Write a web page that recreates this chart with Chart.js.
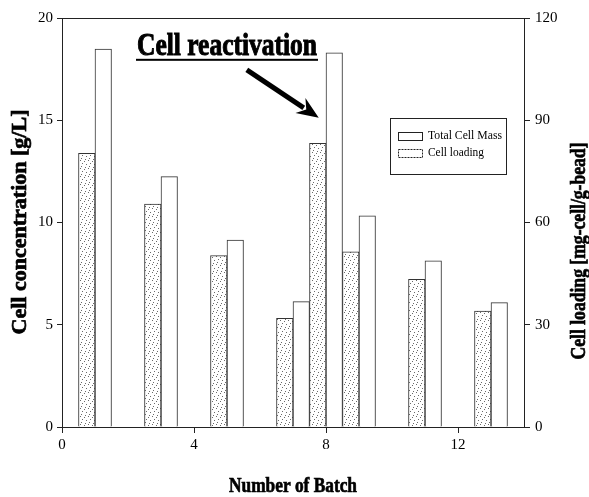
<!DOCTYPE html>
<html><head><meta charset="utf-8">
<script src="https://cdn.jsdelivr.net/npm/chart.js@4.4.1/dist/chart.umd.min.js"></script>
<style>html,body{margin:0;padding:0;background:#fff;}canvas{display:block;}</style>
</head><body>
<canvas id="c" width="589" height="497"></canvas>
<script>
// ---- data ----
const batches = [1, 3, 5, 7, 8, 9, 11, 13];
const cellLoading = [80.3, 65.4, 50.3, 31.9, 83.2, 51.4, 43.3, 34.0];    // mg-cell/g-bead (right axis)
const totalCellMass = [18.48, 12.24, 9.14, 6.13, 18.3, 10.33, 8.13, 6.08]; // g/L (left axis)
const xTickValues = [0, 4, 8, 12];
const leftTickValues = [0, 5, 10, 15, 20];
const rightTickValues = [0, 30, 60, 90, 120];
const seriesNames = ['Total Cell Mass', 'Cell loading'];
const xTitle = 'Number of Batch';
const leftTitle = 'Cell concentration [g/L]';
const rightTitle = 'Cell loading [mg-cell/g-bead]';
const annotationText = 'Cell reactivation';

// ---- styles ----
const SERIF = '"Liberation Serif", "Times New Roman", serif';
function makeStipple() {
  const c = document.createElement('canvas'); c.width = 8; c.height = 8;
  const g = c.getContext('2d');
  g.fillStyle = '#fff'; g.fillRect(0, 0, 8, 8);
  g.fillStyle = '#6a6a6a';
  [[0,0],[4,1],[2,3],[6,4],[1,6],[5,7]].forEach(([x,y]) => g.fillRect(x, y, 1, 1));
  return g.createPattern(c, 'repeat');
}
const stipple = makeStipple();

function fitText(ctx, text, x, y, targetW, rot, heavy) {
  ctx.save();
  ctx.translate(x, y);
  ctx.rotate(rot || 0);
  const w = ctx.measureText(text).width;
  ctx.scale(targetW / w, 1);
  ctx.textAlign = 'center';
  ctx.fillText(text, 0, 0);
  if (heavy) { ctx.lineWidth = heavy; ctx.strokeStyle = ctx.fillStyle; ctx.strokeText(text, 0, 0); }
  ctx.restore();
}

const decor = {
  id: 'decor',
  afterDraw(chart) {
    const ctx = chart.ctx;
    const a = chart.chartArea;
    const xs = chart.scales.x, ys = chart.scales.y;
    ctx.save();
    // top frame
    ctx.strokeStyle = '#222'; ctx.lineWidth = 1;
    ctx.beginPath(); ctx.moveTo(a.left, a.top + 0.5); ctx.lineTo(a.right, a.top + 0.5); ctx.stroke();

    // axis titles
    ctx.fillStyle = '#000';
    ctx.textBaseline = 'middle';
    ctx.font = 'bold 22px ' + SERIF;
    fitText(ctx, xTitle, (a.left + a.right) / 2, 486, 128, 0, 0.7);
    fitText(ctx, leftTitle, 20, 222, 225, -Math.PI / 2, 0.7);
    fitText(ctx, rightTitle, 579, 251, 217, -Math.PI / 2, 0.7);

    // annotation
    ctx.textBaseline = 'alphabetic';
    ctx.font = 'bold 32px ' + SERIF;
    const tx = xs.getPixelForValue(5.0), ty = ys.getPixelForValue(18.2);
    fitText(ctx, annotationText, tx, ty, 180, 0, 1);
    ctx.fillRect(tx - 91, ty + 4, 182, 2);
    // arrow
    const x0 = xs.getPixelForValue(5.6), y0 = ys.getPixelForValue(17.46);
    const x1 = xs.getPixelForValue(7.78), y1 = ys.getPixelForValue(15.12);
    const ang = Math.atan2(y1 - y0, x1 - x0);
    const hl = 22, hw = 9;
    const bx = x1 - hl * Math.cos(ang), by = y1 - hl * Math.sin(ang);
    ctx.strokeStyle = '#000'; ctx.lineWidth = 5; ctx.lineCap = 'butt';
    ctx.beginPath(); ctx.moveTo(x0, y0); ctx.lineTo(bx + 4 * Math.cos(ang), by + 4 * Math.sin(ang)); ctx.stroke();
    ctx.beginPath();
    ctx.moveTo(x1, y1);
    ctx.lineTo(bx + hw * Math.sin(ang), by - hw * Math.cos(ang));
    ctx.lineTo(bx + 7 * Math.cos(ang), by + 7 * Math.sin(ang));
    ctx.lineTo(bx - hw * Math.sin(ang), by + hw * Math.cos(ang));
    ctx.closePath(); ctx.fill();

    // legend
    const lx = a.right - 134, ly = a.top + 100, lw = 116, lh = 56;
    ctx.lineWidth = 1; ctx.strokeStyle = '#222';
    ctx.fillStyle = '#fff';
    ctx.fillRect(lx, ly, lw, lh);
    ctx.strokeRect(lx + 0.5, ly + 0.5, lw, lh);
    const order = [1, 0];
    ctx.font = '12px ' + SERIF;
    ctx.textBaseline = 'middle';
    ctx.textAlign = 'left';
    order.forEach((di, k) => {
      const ds = chart.data.datasets[di];
      const sy = ly + 14 + k * 17;
      ctx.fillStyle = '#fff';
      ctx.fillRect(lx + 8, sy, 24, 8);
      ctx.setLineDash(di === 0 ? [2, 1] : []);
      ctx.strokeStyle = '#222';
      ctx.strokeRect(lx + 8.5, sy + 0.5, 24, 8);
      ctx.setLineDash([]);
      ctx.fillStyle = '#000';
      ctx.save();
      ctx.translate(lx + 38, sy + 4);
      const w = ctx.measureText(ds.label).width;
      const target = di === 0 ? 56 : 74;
      ctx.scale(target / w, 1);
      ctx.fillText(ds.label, 0, 0);
      ctx.restore();
    });
    ctx.restore();
  }
};

const tickFont = { family: SERIF, size: 15 };
function setTicks(values) { return s => { s.ticks = values.map(v => ({ value: v })); }; }

new Chart(document.getElementById('c'), {
  type: 'bar',
  data: {
    datasets: [
      {
        label: seriesNames[1],
        data: batches.map((b, i) => ({ x: b, y: cellLoading[i] })),
        yAxisID: 'y1',
        backgroundColor: stipple,
        borderColor: '#333',
        borderWidth: 1
      },
      {
        label: seriesNames[0],
        data: batches.map((b, i) => ({ x: b, y: totalCellMass[i] })),
        yAxisID: 'y',
        backgroundColor: '#fff',
        borderColor: '#333',
        borderWidth: 1
      }
    ]
  },
  options: {
    responsive: false,
    animation: false,
    devicePixelRatio: 1,
    categoryPercentage: 1,
    barPercentage: 1,
    layout: { padding: { top: 18, left: 0, right: 0, bottom: 0 } },
    plugins: { legend: { display: false }, tooltip: { enabled: false } },
    scales: {
      x: {
        type: 'linear', position: 'bottom', min: 0, max: 14, offset: false,
        afterBuildTicks: setTicks(xTickValues),
        afterFit: s => { s.height = 70; },
        grid: { display: true, drawOnChartArea: false, drawTicks: true, tickLength: 6, color: '#222', offset: false },
        border: { display: true, color: '#222', width: 1 },
        ticks: { font: tickFont, color: '#000', padding: 3, maxRotation: 0 }
      },
      y: {
        type: 'linear', position: 'left', min: 0, max: 20,
        afterBuildTicks: setTicks(leftTickValues),
        afterFit: s => { s.width = 62; },
        grid: { display: true, drawOnChartArea: false, drawTicks: true, tickLength: 5, color: '#222' },
        border: { display: true, color: '#222', width: 1 },
        ticks: { font: tickFont, color: '#000', padding: 4 }
      },
      y1: {
        type: 'linear', position: 'right', min: 0, max: 120,
        afterBuildTicks: setTicks(rightTickValues),
        afterFit: s => { s.width = 65; },
        grid: { display: true, drawOnChartArea: false, drawTicks: true, tickLength: 6, color: '#222' },
        border: { display: true, color: '#222', width: 1 },
        ticks: { font: tickFont, color: '#000', padding: 5 }
      }
    }
  },
  plugins: [decor]
});
</script>
</body></html>
